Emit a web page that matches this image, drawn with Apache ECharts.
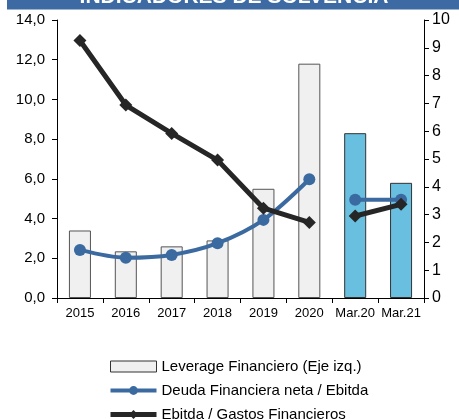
<!DOCTYPE html>
<html>
<head>
<meta charset="utf-8">
<script src="https://cdn.jsdelivr.net/npm/echarts@6/dist/echarts.min.js"></script>
<style>
html,body{margin:0;padding:0;background:#fff;}
#c{width:459px;height:419px;}
</style>
</head>
<body>
<div id="c"></div>
<script>
var categories = ['2015','2016','2017','2018','2019','2020','Mar.20','Mar.21'];
var leverage = [3.4, 2.35, 2.6, 2.9, 5.5, 11.8, 8.3, 5.8];
var deuda = [1.73, 1.45, 1.55, 1.97, 2.81, 4.27, 3.53, 3.53];
var ebitda = [9.26, 6.94, 5.92, 4.96, 3.23, 2.72, 2.95, 3.37];
var leftTicks = [0, 2, 4, 6, 8, 10, 12, 14];
var rightTicks = [0,1,2,3,4,5,6,7,8,9,10];
var nAnnual = 6;

var FONT = 'Liberation Sans, Arial, sans-serif';
function part(arr, from, to){
  return arr.map(function(v,i){ return (i>=from && i<to) ? v : '-'; });
}
var barData = leverage.map(function(v,i){
  return {value:v, itemStyle: i < nAnnual ? {color:'#f0f0f0', borderColor:'#555', borderWidth:1}
                                          : {color:'#69bfe0', borderColor:'#333', borderWidth:1}};
});
var blue = '#3a6aa0', black = '#262626';
var chart = echarts.init(document.getElementById('c'));
chart.setOption({
  animation:false,
  textStyle:{fontFamily:FONT},
  graphic:[
    {type:'text', x:234, y:8, style:{text:'INDICADORES DE SOLVENCIA', fill:'#fff', font:'bold 21px Liberation Sans, Arial, sans-serif', textAlign:'center', textVerticalAlign:'bottom'}, z:11},
    {type:'rect', shape:{x:7,y:0,width:452,height:9.5}, style:{fill:'#3d6aa3'}, z:10}
  ],
  grid:{left:57, right:35, top:20, bottom:121},
  legend:{
    orient:'vertical', left:103, top:354, height:80, itemWidth:46, itemGap:9,
    itemHeight:11,
    textStyle:{fontSize:15, color:'#000', fontFamily:FONT},
    data:[
      {name:'Leverage Financiero (Eje izq.)', icon:'rect', itemStyle:{color:'#f0f0f0', borderColor:'#333', borderWidth:1}},
      {name:'Deuda Financiera neta / Ebitda', lineStyle:{width:4, color:blue}, itemStyle:{color:blue}},
      {name:'Ebitda / Gastos Financieros', lineStyle:{width:5, color:black}, itemStyle:{color:black}}
    ]
  },
  xAxis:{
    type:'category', data:categories,
    axisLine:{lineStyle:{color:'#000', width:1}},
    axisTick:{show:true, length:5, lineStyle:{color:'#000'}},
    axisLabel:{fontSize:13, color:'#000', margin:9, interval:0, fontFamily:FONT}
  },
  yAxis:[
    {type:'value', min:0, max:14, interval:2, position:'left',
     splitLine:{show:false},
     axisLine:{show:true, lineStyle:{color:'#000'}},
     axisTick:{show:true, length:5, lineStyle:{color:'#000'}},
     axisLabel:{fontSize:15, color:'#000', margin:12, fontFamily:FONT,
       formatter:function(v){ return v.toFixed(1).replace('.', ','); }}},
    {type:'value', min:0, max:10, interval:1, position:'right',
     splitLine:{show:false},
     axisLine:{show:true, lineStyle:{color:'#000'}},
     axisTick:{show:true, length:5, lineStyle:{color:'#000'}},
     axisLabel:{fontSize:16, color:'#000', margin:8, fontFamily:FONT}}
  ],
  series:[
    {name:'Leverage Financiero (Eje izq.)', type:'bar', yAxisIndex:0, barWidth:'48%', data:barData,
     itemStyle:{color:'#f0f0f0', borderColor:'#555', borderWidth:1}},
    {name:'Deuda Financiera neta / Ebitda', type:'line', yAxisIndex:1, smooth:0.3,
     data:part(deuda,0,nAnnual), symbol:'circle', symbolSize:12,
     lineStyle:{color:blue, width:4}, itemStyle:{color:blue}, z:3},
    {name:'Deuda Financiera neta / Ebitda', type:'line', yAxisIndex:1,
     data:part(deuda,nAnnual,categories.length), symbol:'circle', symbolSize:12,
     lineStyle:{color:blue, width:4}, itemStyle:{color:blue}, z:3},
    {name:'Ebitda / Gastos Financieros', type:'line', yAxisIndex:1,
     data:part(ebitda,0,nAnnual), symbol:'diamond', symbolSize:13,
     lineStyle:{color:black, width:5}, itemStyle:{color:black}, z:4},
    {name:'Ebitda / Gastos Financieros', type:'line', yAxisIndex:1,
     data:part(ebitda,nAnnual,categories.length), symbol:'diamond', symbolSize:13,
     lineStyle:{color:black, width:5}, itemStyle:{color:black}, z:4}
  ]
});
</script>
</body>
</html>
